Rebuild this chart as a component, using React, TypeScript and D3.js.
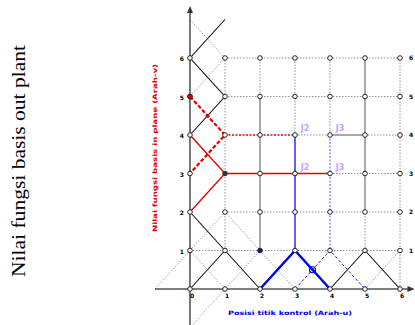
import React from 'react';
import * as d3 from 'd3';

// grid indices (columns along u, rows along w)
const cols = [0, 1, 2, 3, 4, 5, 6];
const rows = [0, 1, 2, 3, 4, 5, 6];

const bottomLabels = ['0', '1', '2', '3', '4', '5', '6'];
const leftLabels = ['0', '1', '2', '3', '4', '5', '6'];
const rightLabels = ['', '1', '2', '3', '4', '5', '6'];

// polylines given in grid units [col, row]
const blackSolid = [
  [[1, 7], [0, 6], [1, 5], [0, 4]],
  [[0, 2], [1, 1], [2, 0]],
  [[0, 0], [1, 1]],
  [[4, 0], [5, 1], [6, 0]],
];
const grayDotted = [
  [[0, 7], [1, 6], [0, 5]],
  [[0, 1], [1, 2], [2, 1], [3, 0]],
  [[-1, 0], [0, 1], [1, 0], [2, 1]],
  [[1, 0], [0, -1]],
  [[5, 0], [6, 1]],
];
const redSolid = [[[0, 4], [1, 3], [0, 2]], [[1, 3], [4, 3]]];
const redDashed = [[[0, 5], [1, 4], [0, 3]]];
const redDotted = [[[1, 4], [3, 4]]];
const blueSolid = [[[3, 4], [3, 1]]];
const blueThick = [[[2, 0], [3, 1], [4, 0]]];
const blueDashed = [[[3, 0], [4, 1], [5, 0]]];
const blueDotted = [[[4, 4], [4, 1]]];

const gridDotted = [
  [[0, 1], [6, 1]], [[1, 2], [6, 2]], [[4, 3], [6, 3]], [[3, 4], [4, 4]],
  [[5, 4], [6, 4]], [[1, 5], [6, 5]], [[1, 6], [6, 6]],
  [[1, 1], [1, 6]], [[2, 5], [2, 6]], [[3, 4], [3, 6]], [[4, 4], [4, 6]],
  [[5, 1], [5, 2]], [[6, 0], [6, 6]],
];
const gridSolid = [[[2, 1], [2, 5]], [[5, 2], [5, 6]], [[4, 4], [5, 4]]];

const nodeLabels = [
  { c: 3, r: 4, t: 'J2' }, { c: 4, r: 4, t: 'J3' },
  { c: 3, r: 3, t: 'J2' }, { c: 4, r: 3, t: 'J3' },
];

const App = () => {
  const x = d3.scaleLinear().domain([0, 6]).range([190, 400]);
  const y = d3.scaleLinear().domain([0, 6]).range([289, 58]);
  const line = d3.line<number[]>().x((d) => x(d[0])).y((d) => y(d[1]));

  const draw = (set: number[][][], stroke: string, w: number, dash?: string) =>
    set.map((p, i) => (
      <path key={i} d={line(p) || ''} fill="none" stroke={stroke}
        strokeWidth={w} strokeDasharray={dash} />
    ));

  const nodes: number[][] = [];
  cols.forEach((c) => rows.forEach((r) => nodes.push([c, r])));

  return (
    <svg width={415} height={325} style={{ position: 'absolute', left: 0, top: 0, background: '#fff' }}>
      <text transform="translate(25,161) rotate(-90)" textAnchor="middle"
        fontFamily="Liberation Serif" fontSize={18} textLength={232}
        lengthAdjust="spacingAndGlyphs">Nilai fungsi basis out plant</text>
      <text transform="translate(157,148) rotate(-90)" textAnchor="middle" fill="#e00000"
        fontFamily="DejaVu Sans" fontWeight="bold" fontSize={6} textLength={168}
        lengthAdjust="spacingAndGlyphs">Nilai fungsi basis in plane (Arah-v)</text>
      <text x={290} y={315} textAnchor="middle" fill="#0000ee" fontFamily="DejaVu Sans"
        fontWeight="bold" fontSize={6} textLength={124}
        lengthAdjust="spacingAndGlyphs">Posisi titik kontrol (Arah-u)</text>

      {draw(gridDotted, '#777', 0.8, '1.5,1.5')}
      {draw(gridSolid, '#555', 1)}
      {draw(grayDotted, '#888', 0.8, '1.5,1.5')}

      {/* axes */}
      <line x1={x(0)} x2={x(0)} y1={y(7.25)} y2={325} stroke="#777" strokeWidth={2} />
      <path d={`M${x(0)},${y(7.25) - 4}l-3,7h6z`} fill="#333" />
      <line x1={x(-1)} x2={x(6.3)} y1={y(0)} y2={y(0)} stroke="#000" strokeWidth={1.2} />
      <path d={`M${x(6.3) + 4},${y(0)}l-7,-3v6z`} fill="#333" />

      {draw(blackSolid, '#111', 1.1)}
      {draw(blueDotted, '#8c8cff', 1.5, '2,1.5')}
      {draw(blueSolid, '#6060ff', 2)}
      {draw(blueDashed, '#2020ee', 1, '3,2')}
      {draw(blueThick, '#0000ee', 2.5)}
      {draw(redSolid, '#e00000', 1.3)}
      {draw(redDashed, '#e00000', 2.2, '4,2')}
      {draw(redDotted, '#e00000', 1.3, '2,1.5')}

      {nodes.map((n, i) => (
        <circle key={i} cx={x(n[0])} cy={y(n[1])} r={2.3} fill="#fff" stroke="#222" strokeWidth={1} />
      ))}
      <circle cx={x(0)} cy={y(5)} r={2.3} fill="#e00000" stroke="#222" strokeWidth={0.8} />
      <circle cx={x(0.5)} cy={y(4.5)} r={2} fill="#e00000" />
      <circle cx={x(1)} cy={y(3)} r={2.3} fill="#333" />
      <circle cx={x(2)} cy={y(1)} r={2.3} fill="#102060" />
      <circle cx={x(3.5)} cy={y(0.5)} r={3} fill="none" stroke="#0000ee" strokeWidth={1.2} />

      {nodeLabels.map((d, i) => (
        <text key={i} x={x(d.c) + 10} y={y(d.r) - 4} textAnchor="middle" fill="#c9a0ff"
          fontFamily="DejaVu Sans" fontWeight="bold" fontSize={8}>{d.t}</text>
      ))}

      {leftLabels.map((t, i) => i > 0 && (
        <text key={i} x={x(0) - 6} y={y(rows[i]) + 3} textAnchor="end" fontFamily="DejaVu Sans"
          fontWeight="bold" fontSize={6}>{t}</text>
      ))}
      {bottomLabels.map((t, i) => (
        <text key={i} x={x(cols[i]) + 2} y={y(0) + 9} textAnchor="middle" fontFamily="DejaVu Sans"
          fontWeight="bold" fontSize={6}>{t}</text>
      ))}
      {rightLabels.map((t, i) => (
        <text key={i} x={x(6) + 9} y={y(rows[i]) + 2} textAnchor="start" fontFamily="DejaVu Sans"
          fontWeight="bold" fontSize={6}>{t}</text>
      ))}
    </svg>
  );
};

export default App;
